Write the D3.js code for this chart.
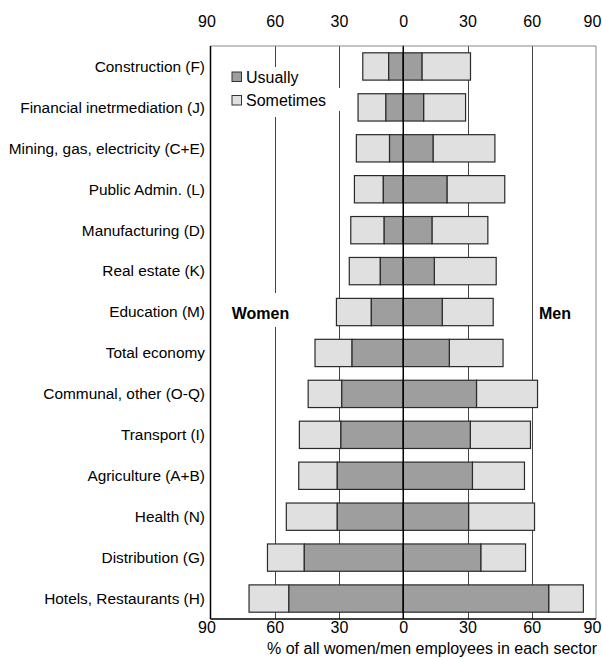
<!DOCTYPE html>
<html>
<head>
<meta charset="utf-8">
<script src="https://cdn.jsdelivr.net/npm/d3@7"></script>
<style>
  body { margin: 0; background: #fff; }
  text { font-family: "Liberation Sans", Arial, sans-serif; }
</style>
</head>
<body>
<div id="chart"></div>
<script>
const categories = ["Construction (F)", "Financial inetrmediation (J)", "Mining, gas, electricity (C+E)",
  "Public Admin. (L)", "Manufacturing (D)", "Real estate (K)", "Education (M)", "Total economy",
  "Communal, other (O-Q)", "Transport (I)", "Agriculture (A+B)", "Health (N)", "Distribution (G)",
  "Hotels, Restaurants (H)"];

// % of women / men employees working at weekends (usually / sometimes)
const womenUsually   = [6.8, 8.1, 6.4, 9.3, 8.9, 10.7, 14.9, 23.9, 28.7, 29.1, 30.8, 30.8, 46.2, 53.4];
const womenSometimes = [12.1, 13.0, 15.5, 13.5, 15.6, 14.5, 16.3, 17.3, 15.7, 19.4, 18.0, 23.8, 17.2, 18.6];
const menUsually     = [8.7, 9.5, 13.9, 20.4, 13.4, 14.5, 18.2, 21.5, 34.2, 31.3, 32.3, 30.5, 36.2, 67.9];
const menSometimes   = [22.7, 19.6, 28.9, 27.0, 26.1, 28.9, 23.8, 25.1, 28.5, 28.1, 24.3, 30.8, 20.9, 16.2];

const tickValues = [-90, -60, -30, 0, 30, 60, 90];
const gridValues = [-60, -30, 30, 60];
const legendLabels = ["Usually", "Sometimes"];

const width = 602, height = 659;
const margin = { top: 46, right: 6, bottom: 40, left: 210.5 };
const usuallyColor = "#9e9e9e", sometimesColor = "#e0e0e0";

const svg = d3.select("#chart").append("svg")
  .attr("width", width)
  .attr("height", height);

const x = d3.scaleLinear()
  .domain([-90, 90])
  .range([margin.left, width - margin.right]);

const y = d3.scaleBand()
  .domain(categories)
  .range([margin.top, height - margin.bottom])
  .paddingInner(0.333)
  .paddingOuter(0.1665);

// grid lines
svg.append("g").selectAll("line")
  .data(gridValues)
  .enter().append("line")
  .attr("x1", d => Math.round(x(d)) + 0.5)
  .attr("x2", d => Math.round(x(d)) + 0.5)
  .attr("y1", margin.top)
  .attr("y2", height - margin.bottom)
  .attr("stroke", "#444")
  .attr("stroke-width", 1);

// white backgrounds behind legend and Women label
svg.append("rect").attr("x", 228).attr("y", 67).attr("width", 72).attr("height", 22).attr("fill", "#fff");
svg.append("rect").attr("x", 228).attr("y", 88).attr("width", 116).attr("height", 23).attr("fill", "#fff");
svg.append("rect").attr("x", 228).attr("y", 110).attr("width", 72).attr("height", 7).attr("fill", "#fff");
svg.append("rect").attr("x", 228).attr("y", 293).attr("width", 64).attr("height", 34).attr("fill", "#fff");

const rows = categories.map((c, i) => ({
  cat: c,
  wu: womenUsually[i], ws: womenSometimes[i],
  mu: menUsually[i], ms: menSometimes[i]
}));

const bars = svg.append("g")
  .attr("stroke", "#2a2a2a")
  .attr("stroke-width", 1.2);

// sometimes (outer) segments
bars.selectAll(".w-some")
  .data(rows).enter().append("rect")
  .attr("x", d => x(-(d.wu + d.ws)))
  .attr("y", d => y(d.cat))
  .attr("width", d => x(-d.wu) - x(-(d.wu + d.ws)))
  .attr("height", y.bandwidth())
  .attr("fill", sometimesColor);

bars.selectAll(".m-some")
  .data(rows).enter().append("rect")
  .attr("x", d => x(d.mu))
  .attr("y", d => y(d.cat))
  .attr("width", d => x(d.mu + d.ms) - x(d.mu))
  .attr("height", y.bandwidth())
  .attr("fill", sometimesColor);

// usually (inner) segments
bars.selectAll(".w-us")
  .data(rows).enter().append("rect")
  .attr("x", d => x(-d.wu))
  .attr("y", d => y(d.cat))
  .attr("width", d => x(0) - x(-d.wu))
  .attr("height", y.bandwidth())
  .attr("fill", usuallyColor);

bars.selectAll(".m-us")
  .data(rows).enter().append("rect")
  .attr("x", x(0))
  .attr("y", d => y(d.cat))
  .attr("width", d => x(d.mu) - x(0))
  .attr("height", y.bandwidth())
  .attr("fill", usuallyColor);

// zero line
svg.append("line")
  .attr("x1", x(0)).attr("x2", x(0))
  .attr("y1", margin.top - 0.5).attr("y2", height - margin.bottom)
  .attr("stroke", "#000").attr("stroke-width", 1.5);

// frame: top and right gray, left and bottom black
svg.append("line")
  .attr("x1", x(-90)).attr("x2", x(90))
  .attr("y1", margin.top).attr("y2", margin.top)
  .attr("stroke", "#888");
svg.append("line")
  .attr("x1", x(90)).attr("x2", x(90))
  .attr("y1", margin.top).attr("y2", height - margin.bottom)
  .attr("stroke", "#888");
svg.append("line")
  .attr("x1", x(-90)).attr("x2", x(-90))
  .attr("y1", margin.top).attr("y2", height - margin.bottom)
  .attr("stroke", "#000").attr("stroke-width", 1.5);
svg.append("line")
  .attr("x1", x(-90)).attr("x2", x(90))
  .attr("y1", height - margin.bottom).attr("y2", height - margin.bottom)
  .attr("stroke", "#000").attr("stroke-width", 1.5);

// axes
const topAxis = svg.append("g")
  .attr("transform", `translate(0,${margin.top})`)
  .call(d3.axisTop(x).tickValues(tickValues).tickSize(0).tickPadding(19).tickFormat(d => Math.abs(d)));
const bottomAxis = svg.append("g")
  .attr("transform", `translate(0,${height - margin.bottom})`)
  .call(d3.axisBottom(x).tickValues(tickValues).tickSize(0).tickPadding(3).tickFormat(d => Math.abs(d)));
[topAxis, bottomAxis].forEach(a => {
  a.select(".domain").remove();
  a.selectAll("text").style("font-size", "16px").attr("fill", "#000")
    .style("font-family", "'Liberation Sans', Arial, sans-serif")
    .attr("dx", d => Math.abs(d) === 90 ? -4 : 0);
});

// category labels
svg.append("g").selectAll("text")
  .data(categories)
  .enter().append("text")
  .attr("x", 205)
  .attr("y", d => y(d) + y.bandwidth() / 2)
  .attr("dy", "0.35em")
  .attr("text-anchor", "end")
  .style("font-size", "15.4px")
  .text(d => d);

// x-axis title
svg.append("text")
  .attr("x", 432)
  .attr("y", 654)
  .attr("text-anchor", "middle")
  .style("font-size", "16px")
  .text("% of all women/men employees in each sector");

// Women / Men labels
svg.append("text")
  .attr("x", 260.5).attr("y", 313).attr("dy", "0.35em")
  .attr("text-anchor", "middle")
  .style("font-size", "16px").style("font-weight", "bold")
  .text("Women");
svg.append("text")
  .attr("x", 555).attr("y", 313).attr("dy", "0.35em")
  .attr("text-anchor", "middle")
  .style("font-size", "16px").style("font-weight", "bold")
  .text("Men");

// legend
const legend = svg.append("g").selectAll("g")
  .data(legendLabels)
  .enter().append("g")
  .attr("transform", (d, i) => `translate(232,${72 + i * 23.5})`);
legend.append("rect")
  .attr("width", 9.5).attr("height", 9.5)
  .attr("fill", (d, i) => i === 0 ? usuallyColor : sometimesColor)
  .attr("stroke", "#333");
legend.append("text")
  .attr("x", 14).attr("y", 5).attr("dy", "0.35em")
  .style("font-size", "16px")
  .text(d => d);
</script>
</body>
</html>
